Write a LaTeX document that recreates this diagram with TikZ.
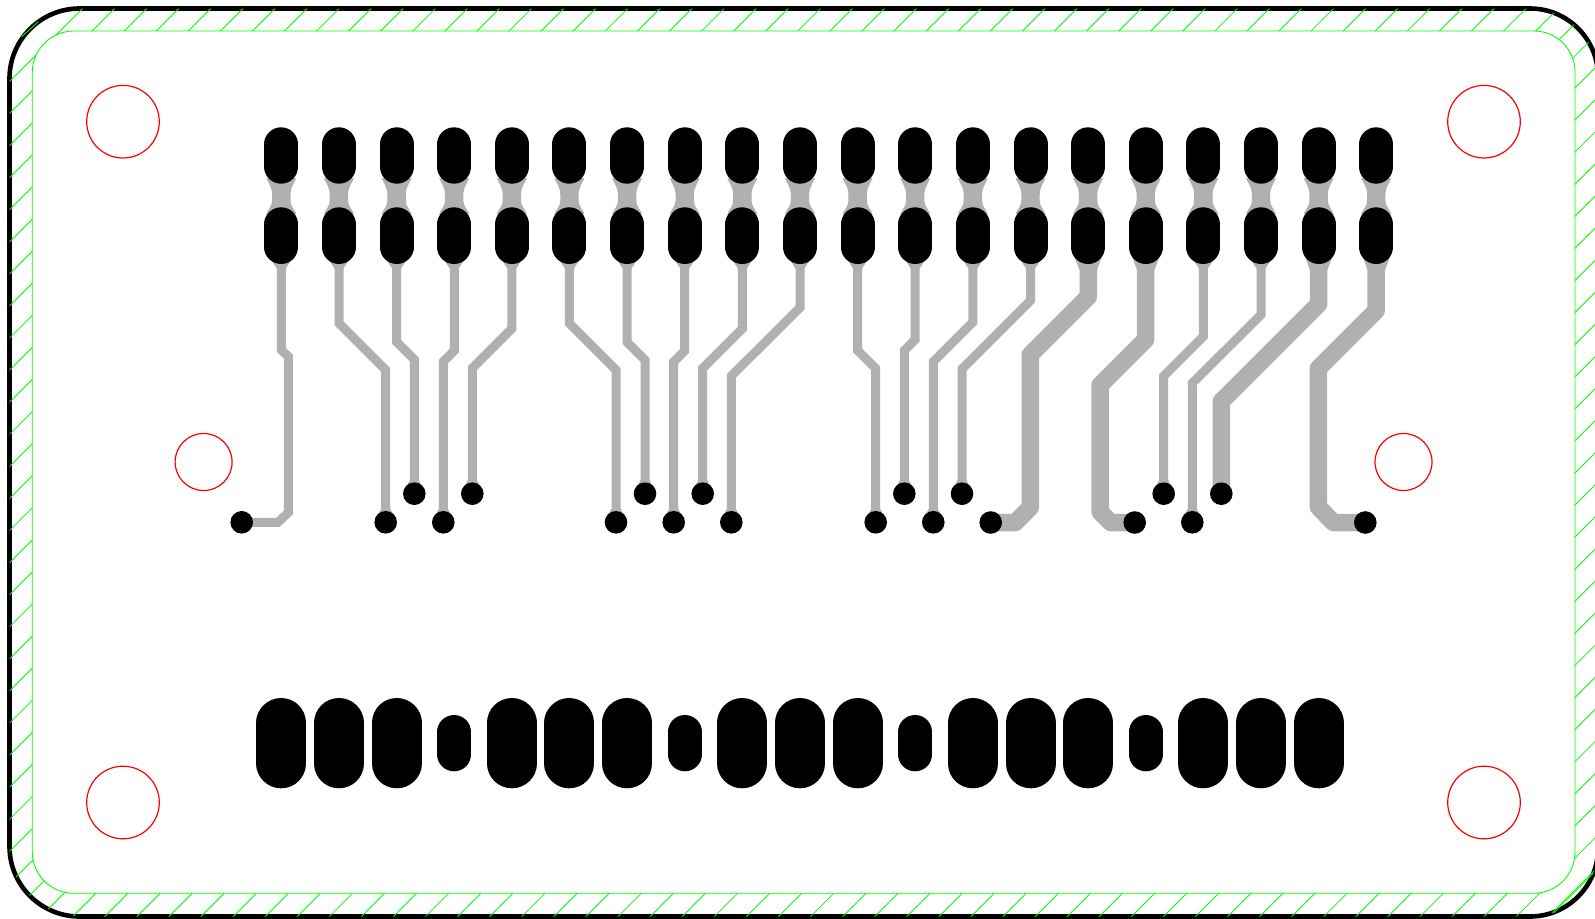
\documentclass[tikz,border=0pt]{standalone}
\definecolor{tracegrey}{HTML}{B0B0B0}
\definecolor{hatchgreen}{HTML}{00FF00}
\definecolor{holered}{HTML}{FF0000}
\tikzset{
  tracethin/.style={draw=tracegrey,line width=9pt,line join=miter,miter limit=4},
  tracewide/.style={draw=tracegrey,line width=17.5pt,line join=round},
  padline/.style={draw=black,line width=34pt,line cap=round},
  bigpadline/.style={draw=black,line width=50pt,line cap=round},
  hatchline/.style={draw=hatchgreen,line width=0.85pt},
  holecircle/.style={draw=holered,line width=1.2pt},
  viadot/.style={fill=black}
}
\newcommand{\neckat}[1]{%
  \fill[tracegrey] (#1-15,178) .. controls (#1-12,185) and (#1-9.2,188) .. (#1-9.2,194)
    -- (#1-9.2,201) .. controls (#1-9.2,206) and (#1-13,209) .. (#1-15,214)
    -- (#1+15,214) .. controls (#1+13,209) and (#1+9.2,206) .. (#1+9.2,201)
    -- (#1+9.2,194) .. controls (#1+9.2,188) and (#1+12,185) .. (#1+15,178) -- cycle;}
\newcommand{\flarethin}[1]{\fill[tracegrey] (#1-11.3,258) -- (#1-4.5,268.5) -- (#1+4.5,268.5) -- (#1+11.3,258) -- cycle;}
\newcommand{\flarewide}[1]{\fill[tracegrey] (#1-13.5,257) -- (#1-8.75,270) -- (#1+8.75,270) -- (#1+13.5,257) -- cycle;}
\newcommand{\viaflare}[2]{\fill[tracegrey] (#1-4.5,#2-13.5) -- (#1-8.5,#2-6) -- (#1+8.5,#2-6) -- (#1+4.5,#2-13.5) -- cycle;}
\newcommand{\boardpath}{(9.5,78.5) arc[start angle=180,end angle=270,radius=70]
  -- (1530,8.5) arc[start angle=270,end angle=360,radius=68]
  -- (1598,848.5) arc[start angle=0,end angle=90,radius=68]
  -- (79.5,916.5) arc[start angle=90,end angle=180,radius=70] -- cycle}
\newcommand{\keepinpath}{(32.3,72.5) arc[start angle=180,end angle=270,radius=41.5]
  -- (1534,31) arc[start angle=270,end angle=360,radius=41]
  -- (1575,852) arc[start angle=0,end angle=90,radius=41.3]
  -- (73.8,893.3) arc[start angle=90,end angle=180,radius=41.5] -- cycle}
\begin{document}
\begin{tikzpicture}[x=1pt,y=-1pt]
\useasboundingbox (0,0) rectangle (1595,918);
\clip (0,0) rectangle (1595,918);
% board outline
\draw[black,line width=4.6pt] \boardpath;
% hatching between outline and keep-in
\begin{scope}[even odd rule]
  \clip \boardpath \keepinpath;
  \foreach \k in {0,...,75}{
    \pgfmathsetmacro{\s}{91+32.08*\k}
    \draw[hatchline] (\s,0) -- (0,\s);
  }
\end{scope}
\draw[hatchline] (21.7,36.7) -- (38.3,21.7);
\draw[hatchline] (1553.3,913.3) -- (1593.3,873.3);
% keep-in outline
\draw[hatchline] \keepinpath;
% mounting holes
\draw[holecircle] (123,121.7) circle[radius=36.3];
\draw[holecircle] (1484,121.7) circle[radius=36.3];
\draw[holecircle] (123,802.5) circle[radius=36.3];
\draw[holecircle] (1484,802.5) circle[radius=36.3];
\draw[holecircle] (203.6,462) circle[radius=28.5];
\draw[holecircle] (1403.5,462) circle[radius=28.5];
% necks
\foreach \i in {0,...,19}{
  \pgfmathsetmacro{\cx}{281.3+57.63*\i}
  \neckat{\cx}
}
\foreach \i in {0,...,13,16,17}{
  \pgfmathsetmacro{\cx}{281.3+57.63*\i}
  \flarethin{\cx}
}
\foreach \i in {14,15,18,19}{
  \pgfmathsetmacro{\cx}{281.3+57.63*\i}
  \flarewide{\cx}
}
% via teardrops
\foreach \vx/\vy in {385.7/522.3,414.3/493.7,443.3/522.3,472.3/493.7,616/522.3,645/493.7,673.7/522.3,702.7/493.7,731.3/522.3,875.7/522.3,904.3/493.7,933.3/522.3,962/493.7,1163.7/493.7,1192.3/522.3}{
  \viaflare{\vx}{\vy}
}
% thin traces
\draw[tracethin] (281.3,262) -- (281.3,350) -- (288.3,356.5) -- (288.3,512.5) -- (278,522.3) -- (241.7,522.3);
\draw[tracethin] (339,262) -- (339,323.3) -- (385.7,370) -- (385.7,522.3);
\draw[tracethin] (396.7,262) -- (396.7,342) -- (414.3,359.6) -- (414.3,493.7);
\draw[tracethin] (454.3,262) -- (454.3,350.7) -- (443.3,361.7) -- (443.3,522.3);
\draw[tracethin] (511.9,262) -- (511.9,328.6) -- (472.3,368.3) -- (472.3,493.7);
\draw[tracethin] (569.4,262) -- (569.4,323.3) -- (616,370) -- (616,522.3);
\draw[tracethin] (627,262) -- (627,342) -- (645,360) -- (645,493.7);
\draw[tracethin] (684.7,262) -- (684.7,350.7) -- (673.7,361.7) -- (673.7,522.3);
\draw[tracethin] (742.3,262) -- (742.3,328.6) -- (702.7,368.3) -- (702.7,493.7);
\draw[tracethin] (800,262) -- (800,307.5) -- (731.3,376) -- (731.3,522.3);
\draw[tracethin] (857.6,262) -- (857.6,350.5) -- (875.7,368.5) -- (875.7,522.3);
\draw[tracethin] (915.2,262) -- (915.2,339.5) -- (904.3,350.5) -- (904.3,493.7);
\draw[tracethin] (972.9,262) -- (972.9,322) -- (933.3,361.7) -- (933.3,522.3);
\draw[tracethin] (1030.5,262) -- (1030.5,300.5) -- (962,369) -- (962,493.7);
\draw[tracethin] (1203.4,262) -- (1203.4,336.3) -- (1163.7,376) -- (1163.7,493.7);
\draw[tracethin] (1261,262) -- (1261,314.7) -- (1192.3,383.2) -- (1192.3,522.3);
% wide traces
\draw[tracewide] (1088.3,262) -- (1088.3,296.7) -- (1030.3,354.7) -- (1030.3,507.3) -- (1015.3,522.5) -- (990.7,522.5);
\draw[tracewide] (1145.7,262) -- (1145.7,339.5) -- (1100,385.2) -- (1100,511.7) -- (1110.7,522.5) -- (1134.7,522.5);
\draw[tracewide] (1318.7,262) -- (1318.7,304) -- (1221.3,401.3) -- (1221.3,493.7);
\draw[tracewide] (1376.2,262) -- (1376.2,310.5) -- (1318.4,368.3) -- (1318.4,507) -- (1333.3,522.5) -- (1365.3,522.5);
% connector pads, upper rows
\foreach \i in {0,...,19}{
  \pgfmathsetmacro{\cx}{281.3+57.63*\i}
  \draw[padline] (\cx,144.3) -- (\cx,166.7);
  \draw[padline] (\cx,224.3) -- (\cx,247);
}
% vias
\foreach \vx/\vy in {241.7/522.3,385.7/522.3,414.3/493.7,443.3/522.3,472.3/493.7,616/522.3,645/493.7,673.7/522.3,702.7/493.7,731.3/522.3,875.7/522.3,904.3/493.7,933.3/522.3,962/493.7,990.7/522.5,1134.7/522.5,1163.7/493.7,1192.3/522.3,1221.3/493.7,1365.3/522.5}{
  \fill[viadot] (\vx,\vy) circle[radius=11.3];
}
% lower row
\foreach \i in {0,1,2,4,5,6,8,9,10,12,13,14,16,17,18}{
  \pgfmathsetmacro{\cx}{281.3+57.63*\i}
  \draw[bigpadline] (\cx,723) -- (\cx,763.3);
}
\foreach \i in {3,7,11,15}{
  \pgfmathsetmacro{\cx}{281.3+57.63*\i}
  \draw[padline] (\cx,732) -- (\cx,754.3);
}
\end{tikzpicture}
\end{document}
